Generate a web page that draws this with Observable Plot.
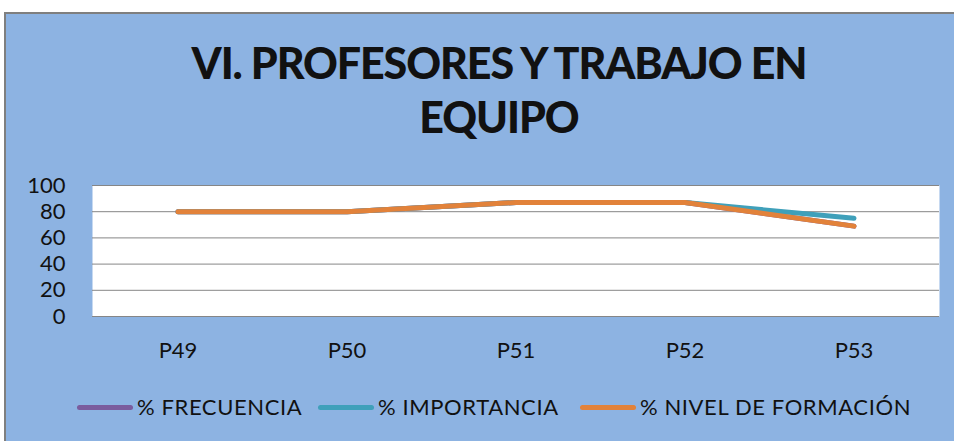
<!DOCTYPE html>
<html>
<head>
<meta charset="utf-8">
<script src="https://cdn.jsdelivr.net/npm/d3@7"></script>
<script src="https://cdn.jsdelivr.net/npm/@observablehq/plot@0.6"></script>
<style>
  html, body { margin: 0; padding: 0; background: #ffffff; width: 954px; height: 441px; overflow: hidden; }
  #panel { position: absolute; left: 4px; top: 12px; width: 960px; height: 440px; background: #8DB3E2; border-left: 2px solid #7f7f7f; border-top: 2px solid #7f7f7f; }
  #title { position: absolute; left: 0; width: 998px; top: 36px; text-align: center; font-family: Lato, sans-serif; font-weight: 900; font-size: 43px; line-height: 54px; color: #111; letter-spacing: -1.1px; }
  #chart { position: absolute; left: 0; top: 170px; }
  .leg { position: absolute; top: 393px; height: 28px; font-family: Lato, sans-serif; font-size: 22px; letter-spacing: 0.6px; color: #111; white-space: nowrap; }
  .lt { position: absolute; top: 0; line-height: 28px; }
</style>
</head>
<body>
<div id="panel"></div>
<div id="title">VI. PROFESORES Y TRABAJO EN<br>EQUIPO</div>
<div id="chart"></div>
<div id="legend"></div>
<script>
const categories = ["P49", "P50", "P51", "P52", "P53"];
const frecuencia = [80, 80, 87, 87, 69];
const importancia = [80, 80, 87, 87, 75];
const nivelFormacion = [80, 80, 87, 87, 69];
const seriesNames = ["% FRECUENCIA", "% IMPORTANCIA", "% NIVEL DE FORMACIÓN"];
const seriesColors = ["#7A5C9E", "#3FA0BA", "#E2823A"];
const yTicks = [0, 20, 40, 60, 80, 100];

const seriesValues = [frecuencia, importancia, nivelFormacion];
const data = [];
seriesValues.forEach((vals, s) => vals.forEach((v, i) => data.push({cat: categories[i], value: v, series: seriesNames[s]})));

const chart = Plot.plot({
  width: 954,
  height: 200,
  marginLeft: 92,
  marginRight: 15,
  marginTop: 15,
  marginBottom: 54,
  style: {background: "transparent", fontFamily: "Lato, sans-serif", fontSize: "22px", color: "#111", overflow: "visible"},
  x: {type: "band", domain: categories, padding: 0, label: null, tickSize: 0, tickPadding: 26},
  y: {domain: [0, 100], ticks: yTicks, label: null, tickSize: 0, tickPadding: 27},
  color: {domain: seriesNames, range: seriesColors},
  marks: [
    Plot.frame({fill: "white", stroke: null}),
    Plot.gridY(yTicks, {stroke: "#868686", strokeOpacity: 1, strokeWidth: 1}),
    Plot.line(data, {x: "cat", y: "value", z: "series", stroke: "series", strokeWidth: 5, strokeLinecap: "round", strokeLinejoin: "round"})
  ]
});
document.getElementById("chart").appendChild(chart);

const legendSwatchX = [77, 318, 580];
const legend = document.getElementById("legend");
seriesNames.forEach((name, i) => {
  const sw = document.createElement("div");
  sw.style.cssText = `position:absolute;top:405px;left:${legendSwatchX[i]}px;width:56px;height:5px;border-radius:3px;background:${seriesColors[i]}`;
  legend.appendChild(sw);
  const t = document.createElement("div");
  t.className = "leg";
  t.style.left = (legendSwatchX[i] + 60) + "px";
  t.innerHTML = `<span class="lt">${name}</span>`;
  legend.appendChild(t);
});
</script>
</body>
</html>
